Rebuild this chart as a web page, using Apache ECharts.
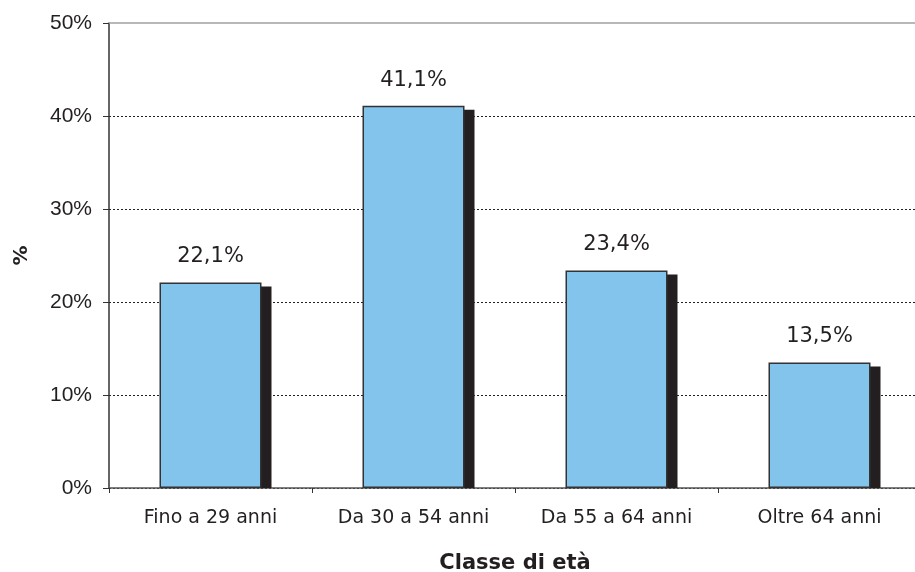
<!DOCTYPE html>
<html>
<head>
<meta charset="utf-8">
<script src="https://cdn.jsdelivr.net/npm/echarts@6/dist/echarts.min.js"></script>
<style>
  html, body { margin: 0; padding: 0; background: #ffffff; }
  #chart { width: 915px; height: 572px; }
</style>
</head>
<body>
<div id="chart"></div>
<script>
// Age classes and their shares (%)
const categories = ['Fino a 29 anni', 'Da 30 a 54 anni', 'Da 55 a 64 anni', 'Oltre 64 anni'];
const shares = [22.1, 41.1, 23.4, 13.5];
const yTicks = [0, 10, 20, 30, 40, 50];

const BAR_W = 102;
const SHADOW_DX = 10;
const SHADOW_DY = 4;
const textColor = '#231f20';
const labelFont = 'DejaVu Sans';
const tickFont = 'Liberation Sans';

const chart = echarts.init(document.getElementById('chart'), null, { renderer: 'canvas' });

chart.setOption({
  animation: false,
  backgroundColor: '#ffffff',
  grid: { left: 109, top: 23, right: -6, bottom: 84, containLabel: false, outerBoundsMode: 'none' },
  xAxis: {
    type: 'category',
    data: categories,
    name: 'Classe di età',
    nameLocation: 'middle',
    nameGap: 65,
    nameTextStyle: { fontFamily: labelFont, fontWeight: 'bold', fontSize: 21, color: textColor },
    axisLine: { lineStyle: { color: '#555555', width: 1.5 } },
    axisTick: { show: true, length: 5, lineStyle: { color: '#333333' } },
    axisLabel: { margin: 21, fontFamily: labelFont, fontSize: 19, color: textColor }
  },
  yAxis: {
    type: 'value',
    min: yTicks[0],
    max: yTicks[yTicks.length - 1],
    interval: yTicks[1] - yTicks[0],
    name: '%',
    nameLocation: 'middle',
    nameRotate: 90,
    nameGap: 77,
    nameTextStyle: { fontFamily: labelFont, fontWeight: 'bold', fontSize: 20, color: textColor },
    axisLine: { show: true, lineStyle: { color: '#333333', width: 1.5 } },
    axisTick: { show: true, length: 6, lineStyle: { color: '#333333' } },
    axisLabel: { margin: 17, fontFamily: tickFont, fontSize: 21, color: textColor, formatter: '{value}%' },
    splitLine: { show: true, showMaxLine: false, lineStyle: { color: '#222222', type: [2, 2], width: 1 } }
  },
  series: [
    {
      // drop shadow behind each bar, clipped at the category axis
      type: 'custom',
      z: 1,
      clip: false,
      data: shares.map((v, i) => [i, v]),
      renderItem: function (params, api) {
        const top = api.coord([api.value(0), api.value(1)]);
        const base = api.coord([api.value(0), 0]);
        const x = top[0] - BAR_W / 2 + SHADOW_DX;
        const y = top[1] + SHADOW_DY;
        return {
          type: 'rect',
          shape: { x: x, y: y, width: BAR_W, height: base[1] - y },
          style: { fill: '#231f20' }
        };
      },
      markLine: {
        silent: true,
        symbol: 'none',
        z: 5,
        label: { show: false },
        lineStyle: { color: '#a0a0a0', type: 'solid', width: 1.5 },
        data: [{ yAxis: yTicks[yTicks.length - 1] }]
      }
    },
    {
      type: 'bar',
      z: 3,
      data: shares,
      barWidth: BAR_W,
      itemStyle: { color: '#83c4ec', borderColor: '#333333', borderWidth: 1.5 },
      label: {
        show: true,
        position: 'top',
        distance: 15,
        fontFamily: labelFont,
        fontSize: 21,
        color: textColor,
        formatter: p => p.value.toFixed(1).replace('.', ',') + '%'
      }
    }
  ]
});
</script>
</body>
</html>
